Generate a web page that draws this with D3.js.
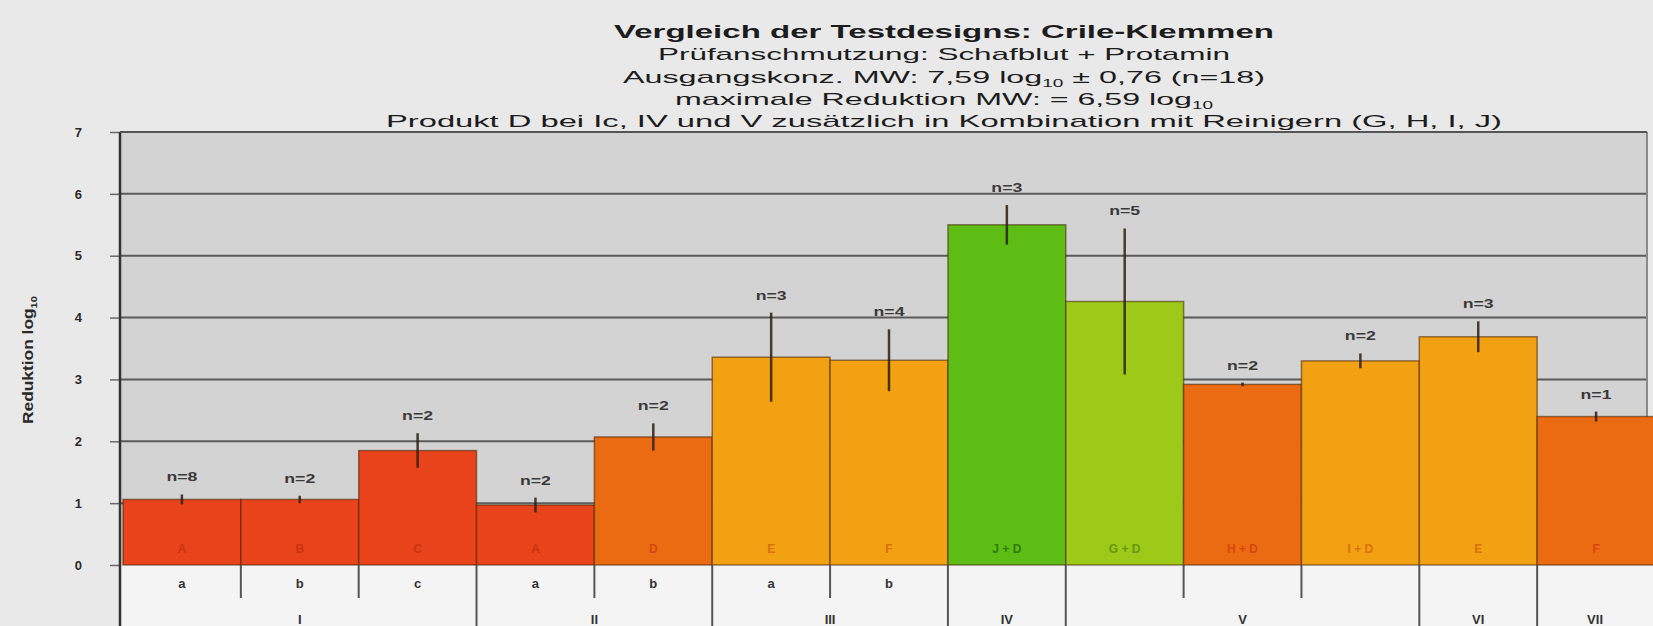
<!DOCTYPE html>
<html>
<head>
<meta charset="utf-8">
<script src="https://cdn.jsdelivr.net/npm/d3@7"></script>
<style>
  html, body { margin: 0; padding: 0; background: #e9e9e9; }
  svg { display: block; font-family: "Liberation Sans", Arial, sans-serif; }
</style>
</head>
<body>
<svg id="chart" width="1653" height="626"></svg>
<script>
// Test series: one bar per test design
const categories = ["Ia", "Ib", "Ic", "IIa", "IIb", "IIIa", "IIIb", "IV", "Va", "Vb", "Vc", "VI", "VII"];
const groupLabels = ["I", "I", "I", "II", "II", "III", "III", "IV", "V", "V", "V", "VI", "VII"];
const subLabels = ["a", "b", "c", "a", "b", "a", "b", "", "", "", "", "", ""];
const productLabels = ["A", "B", "C", "A", "D", "E", "F", "J + D", "G + D", "H + D", "I + D", "E", "F"];
const reduction = [1.06, 1.06, 1.85, 0.97, 2.07, 3.36, 3.31, 5.50, 4.26, 2.92, 3.30, 3.69, 2.40];
const stdDev = [0.08, 0.06, 0.28, 0.12, 0.22, 0.72, 0.50, 0.32, 1.18, 0.03, 0.12, 0.25, 0.08];
const sampleSize = [8, 2, 2, 2, 2, 3, 4, 3, 5, 2, 2, 3, 1];
const colorClass = ["red", "red", "red", "red", "orange", "amber", "amber", "green", "lime", "orange", "amber", "amber", "orange"];
const yTicks = [0, 1, 2, 3, 4, 5, 6, 7];

const titleLines = [
  { parts: [["Vergleich der Testdesigns: Crile-Klemmen"]], bold: true },
  { parts: [["Prüfanschmutzung: Schafblut + Protamin"]] },
  { parts: [["Ausgangskonz. MW: 7,59 log"], ["10", "sub"], [" ± 0,76 (n=18)"]] },
  { parts: [["maximale Reduktion MW: = 6,59 log"], ["10", "sub"]] },
  { parts: [["Produkt D bei  Ic, IV und V zusätzlich in Kombination mit Reinigern (G, H, I, J)"]] }
];

const palette = {
  red:    { fill: "#e9431b", text: "#c93410" },
  orange: { fill: "#ea6b12", text: "#d9450c" },
  amber:  { fill: "#f1a112", text: "#d9700a" },
  green:  { fill: "#5dbd14", text: "#2f7a0a" },
  lime:   { fill: "#9dca18", text: "#66960c" }
};

const rows = categories.map((c, i) => ({
  key: c, group: groupLabels[i], sub: subLabels[i], product: productLabels[i],
  value: reduction[i], sd: stdDev[i], n: sampleSize[i], color: palette[colorClass[i]]
}));

const svg = d3.select("#chart");
const W = 1653, H = 626;
const plotLeft = 120, plotRight = 1647, plotTop = 132, plotBottom = 565;

const y = d3.scaleLinear().domain([0, 7]).range([plotBottom, plotTop]);
const x = d3.scaleBand().domain(categories).range([123, 1655]).padding(0);

// page background
svg.append("rect").attr("width", W).attr("height", H).attr("fill", "#e9e9e9");

// title block
const titleY = [32, 54, 77, 99, 121];
const titleWidth = [660, 572, 642, 538, 1116];
const titleSize = [19, 17, 17, 17, 17];
const titleCx = 944;
titleLines.forEach((line, i) => {
  const t = svg.append("text")
    .attr("x", titleCx - titleWidth[i] / 2)
    .attr("y", titleY[i] + 6)
    .attr("textLength", titleWidth[i])
    .attr("lengthAdjust", "spacingAndGlyphs")
    .attr("font-size", titleSize[i])
    .attr("font-weight", line.bold ? "bold" : "normal")
    .attr("fill", "#1c1c1c");
  let shifted = false;
  line.parts.forEach(p => {
    const span = t.append("tspan").text(p[0]);
    if (p[1] === "sub") {
      span.attr("font-size", 10).attr("dy", 4);
      shifted = true;
    } else if (shifted) {
      span.attr("dy", -4);
      shifted = false;
    }
  });
});

// plot area background
svg.append("rect")
  .attr("x", plotLeft).attr("y", plotTop)
  .attr("width", plotRight - plotLeft).attr("height", plotBottom - plotTop)
  .attr("fill", "#d3d3d3");

// category area under the bars
svg.append("rect")
  .attr("x", plotLeft).attr("y", plotBottom)
  .attr("width", W - plotLeft).attr("height", H - plotBottom)
  .attr("fill", "#f4f4f4");

// horizontal gridlines
svg.append("g").selectAll("line")
  .data(yTicks.filter(t => t > 0))
  .join("line")
  .attr("x1", plotLeft).attr("x2", plotRight)
  .attr("y1", d => y(d)).attr("y2", d => y(d))
  .attr("stroke", "#5b5b5b").attr("stroke-width", 2);

// right border of the plot area
svg.append("line")
  .attr("x1", plotRight).attr("x2", plotRight)
  .attr("y1", plotTop).attr("y2", plotBottom)
  .attr("stroke", "#8a8a8a").attr("stroke-width", 2);

// bars
svg.append("g").selectAll("rect")
  .data(rows)
  .join("rect")
  .attr("x", d => x(d.key))
  .attr("y", d => y(d.value))
  .attr("width", x.bandwidth())
  .attr("height", d => y(0) - y(d.value))
  .attr("fill", d => d.color.fill)
  .attr("stroke", "rgba(70,35,0,0.55)")
  .attr("stroke-width", 1.5);

// product labels inside the bars
svg.append("g").selectAll("text")
  .data(rows)
  .join("text")
  .attr("x", d => x(d.key) + x.bandwidth() / 2)
  .attr("y", y(0) - 12)
  .attr("text-anchor", "middle")
  .attr("font-size", 12)
  .attr("font-weight", "bold")
  .attr("fill", d => d.color.text)
  .text(d => d.product);

// standard deviation bars
const errG = svg.append("g");
errG.selectAll("line")
  .data(rows)
  .join("line")
  .attr("x1", d => x(d.key) + x.bandwidth() / 2)
  .attr("x2", d => x(d.key) + x.bandwidth() / 2)
  .attr("y1", d => y(d.value + d.sd))
  .attr("y2", d => y(Math.max(0, d.value - d.sd)))
  .attr("stroke", "rgba(45,30,15,0.85)")
  .attr("stroke-width", 2.5);

// n labels above the error bars
svg.append("g").selectAll("text")
  .data(rows)
  .join("text")
  .attr("x", d => x(d.key) + x.bandwidth() / 2)
  .attr("y", d => y(d.value + d.sd) - 13)
  .attr("text-anchor", "middle")
  .attr("font-size", 12)
  .attr("font-weight", "bold")
  .attr("fill", "#3a3a3a")
  .attr("textLength", 31)
  .attr("lengthAdjust", "spacingAndGlyphs")
  .text(d => "n=" + d.n);

// y axis with outside ticks
const yAxis = d3.axisLeft(y).tickValues(yTicks).tickSize(10).tickPadding(28).tickFormat(d3.format("d"));
const yAxisG = svg.append("g").attr("transform", `translate(${plotLeft},0)`).call(yAxis);
yAxisG.select(".domain").remove();
yAxisG.selectAll(".tick line").attr("stroke", "#6a6a6a").attr("stroke-width", 1.5);
yAxisG.selectAll(".tick text")
  .attr("font-size", 13).attr("font-weight", "bold").attr("fill", "#2a2a2a")
  .attr("font-family", "'Liberation Sans', Arial, sans-serif");

// vertical axis line running down through the category rows
svg.append("line")
  .attr("x1", plotLeft).attr("x2", plotLeft)
  .attr("y1", plotTop).attr("y2", H)
  .attr("stroke", "#333").attr("stroke-width", 2.5);

// top border
svg.append("line")
  .attr("x1", plotLeft).attr("x2", plotRight)
  .attr("y1", plotTop).attr("y2", plotTop)
  .attr("stroke", "#555").attr("stroke-width", 2);

// y axis title
const yTitle = svg.append("text")
  .attr("transform", "translate(33,360) rotate(-90)")
  .attr("x", -64)
  .attr("textLength", 128)
  .attr("lengthAdjust", "spacingAndGlyphs")
  .attr("font-size", 14)
  .attr("font-weight", "bold")
  .attr("fill", "#2a2a2a");
yTitle.append("tspan").text("Reduktion log");
yTitle.append("tspan").text("10").attr("font-size", 9).attr("dy", 4);

// category separators: short inside a group, full height between groups
const sepG = svg.append("g");
categories.forEach((c, i) => {
  if (i === 0) return;
  const xb = x(c);
  const tall = groupLabels[i] !== groupLabels[i - 1];
  sepG.append("line")
    .attr("x1", xb).attr("x2", xb)
    .attr("y1", plotBottom).attr("y2", tall ? H : 598)
    .attr("stroke", "#555").attr("stroke-width", 2);
});

// first category row (sub designs)
svg.append("g").selectAll("text")
  .data(rows.filter(d => d.sub))
  .join("text")
  .attr("x", d => x(d.key) + x.bandwidth() / 2)
  .attr("y", 588)
  .attr("text-anchor", "middle")
  .attr("font-size", 13)
  .attr("font-weight", "bold")
  .attr("fill", "#333")
  .text(d => d.sub);

// second category row (design groups)
const groupSpans = d3.groups(rows, d => d.group).map(([g, items]) => ({
  g,
  x0: x(items[0].key),
  x1: x(items[items.length - 1].key) + x.bandwidth()
}));
svg.append("g").selectAll("text")
  .data(groupSpans)
  .join("text")
  .attr("x", d => (d.x0 + Math.min(d.x1, W)) / 2)
  .attr("y", 624)
  .attr("text-anchor", "middle")
  .attr("font-size", 13)
  .attr("font-weight", "bold")
  .attr("fill", "#333")
  .text(d => d.g);
</script>
</body>
</html>
